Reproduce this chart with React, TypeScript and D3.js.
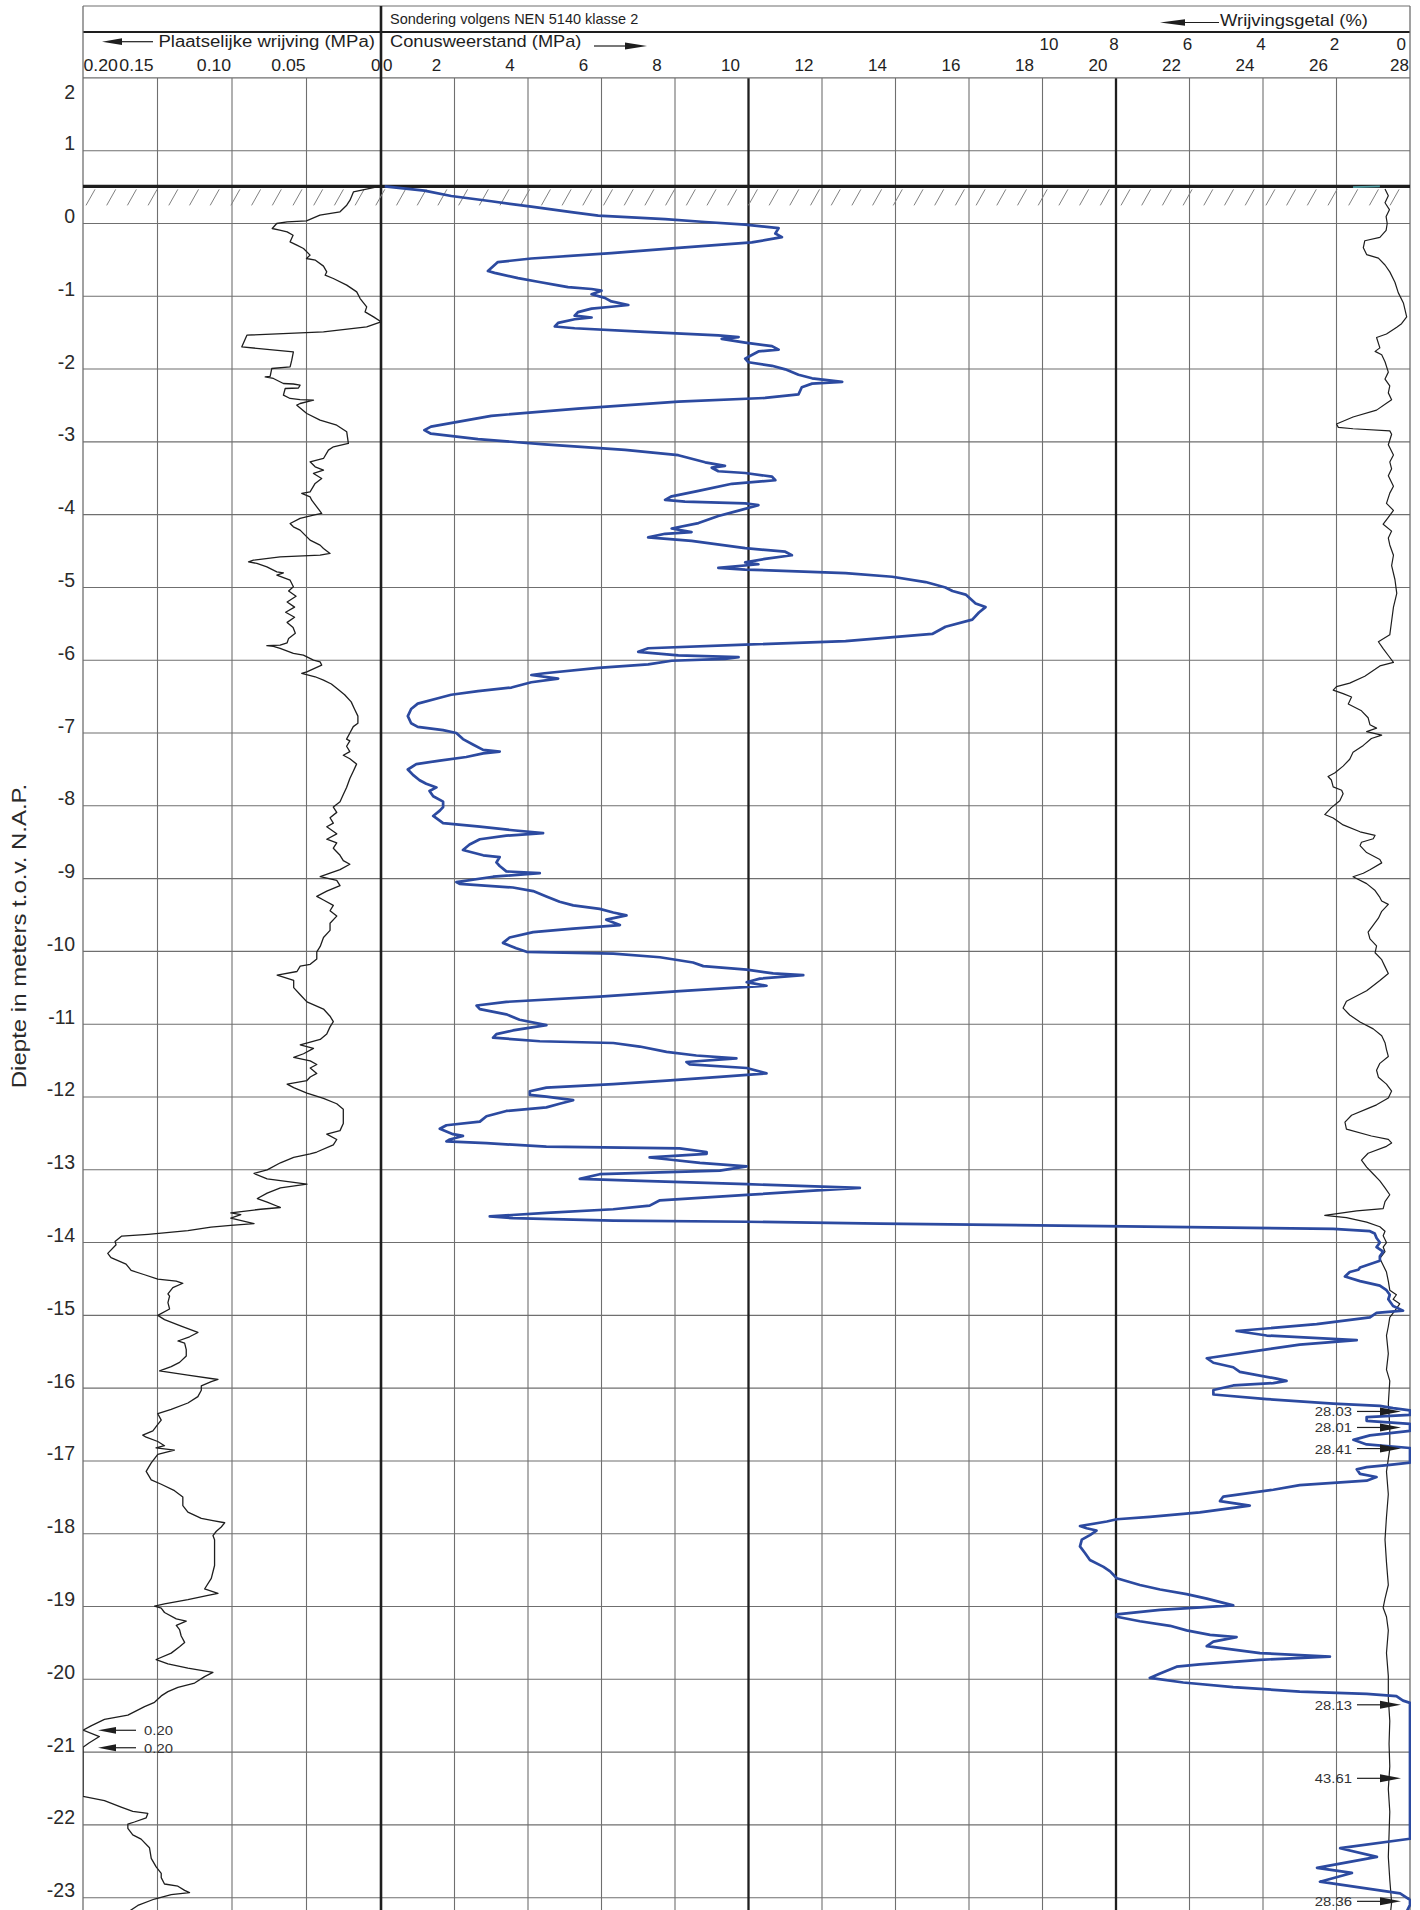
import React from 'react';
import * as d3 from 'd3';

// ---------- axis definitions ----------
const depthTicks: number[] = d3.range(2, -24, -1);
const frictionTicks: number[] = [0.2, 0.15, 0.1, 0.05, 0];
const frictionTickLabels: string[] = ['0.20', '0.15', '0.10', '0.05', '0'];
const coneTicks: number[] = d3.range(0, 29, 2);
const ratioTicks: number[] = [10, 8, 6, 4, 2, 0];
const groundLevel = 0.51;

// ---------- data: [depth (m NAP), value] ----------
// Plaatselijke wrijving (MPa)
const frictionData: [number, number][] = [
  [0.51, 0.001], [0.494, 0.005], [0.434, 0.0185], [0.32, 0.0208], [0.251, 0.023], [0.16, 0.0275], [0.114, 0.041],
  [0.036, 0.05], [0.022, 0.063], [0.0, 0.07], [-0.069, 0.073], [-0.092, 0.068], [-0.115, 0.063], [-0.161, 0.059],
  [-0.252, 0.061], [-0.298, 0.0565], [-0.344, 0.052], [-0.435, 0.0476], [-0.481, 0.05], [-0.504, 0.044],
  [-0.586, 0.0386], [-0.664, 0.0364], [-0.71, 0.0375], [-0.756, 0.032], [-0.847, 0.023], [-0.939, 0.0163],
  [-1.031, 0.014], [-1.145, 0.0096], [-1.214, 0.0107], [-1.283, 0.005], [-1.351, 0.0], [-1.42, 0.0096],
  [-1.489, 0.0386], [-1.534, 0.09], [-1.695, 0.0934], [-1.763, 0.0588], [-1.878, 0.0599], [-1.969, 0.061],
  [-1.992, 0.0733], [-2.1, 0.0744], [-2.107, 0.0777], [-2.129, 0.0722], [-2.198, 0.0655], [-2.205, 0.0588],
  [-2.221, 0.0543], [-2.26, 0.0554], [-2.267, 0.0643], [-2.359, 0.0655], [-2.404, 0.061], [-2.42, 0.0543],
  [-2.427, 0.0453], [-2.473, 0.0543], [-2.496, 0.0565], [-2.61, 0.0498], [-2.702, 0.0409], [-2.771, 0.0297],
  [-2.862, 0.023], [-3.022, 0.0219], [-3.068, 0.0319], [-3.114, 0.0353], [-3.228, 0.0386], [-3.274, 0.0476],
  [-3.343, 0.0442], [-3.389, 0.0386], [-3.434, 0.0453], [-3.503, 0.0398], [-3.571, 0.0442], [-3.686, 0.0476],
  [-3.709, 0.0532], [-3.755, 0.0476], [-3.801, 0.0465], [-3.892, 0.0431], [-3.984, 0.0398], [-4.007, 0.0453],
  [-4.052, 0.0543], [-4.121, 0.061], [-4.167, 0.0588], [-4.213, 0.0543], [-4.35, 0.0476], [-4.419, 0.0409],
  [-4.464, 0.0386], [-4.533, 0.0342], [-4.556, 0.0409], [-4.579, 0.0677], [-4.625, 0.0856], [-4.648, 0.0889],
  [-4.67, 0.0833], [-4.717, 0.0766], [-4.785, 0.0699], [-4.8, 0.0655], [-4.831, 0.0699], [-4.9, 0.061],
  [-4.991, 0.0588], [-5.05, 0.062], [-5.12, 0.057], [-5.2, 0.063], [-5.27, 0.058], [-5.34, 0.064], [-5.41, 0.058],
  [-5.48, 0.063], [-5.55, 0.059], [-5.63, 0.0575], [-5.7, 0.062], [-5.76, 0.063], [-5.792, 0.0677], [-5.8, 0.0766],
  [-5.81, 0.0722], [-5.838, 0.0677], [-5.907, 0.0588], [-5.93, 0.0521], [-5.999, 0.0453], [-6.021, 0.0409],
  [-6.067, 0.0398], [-6.159, 0.0498], [-6.181, 0.0532], [-6.227, 0.0442], [-6.273, 0.0386], [-6.326, 0.0333],
  [-6.4, 0.0289], [-6.474, 0.0244], [-6.572, 0.02], [-6.67, 0.0178], [-6.768, 0.0155], [-6.866, 0.0155],
  [-6.912, 0.0186], [-7.0, 0.0209], [-7.083, 0.0231], [-7.108, 0.0209], [-7.182, 0.0231], [-7.255, 0.0209],
  [-7.305, 0.0253], [-7.354, 0.0209], [-7.427, 0.0164], [-7.526, 0.0186], [-7.624, 0.0209], [-7.747, 0.0231],
  [-7.845, 0.0253], [-7.943, 0.0275], [-8.017, 0.032], [-8.09, 0.0297], [-8.164, 0.0342], [-8.238, 0.032],
  [-8.287, 0.0364], [-8.385, 0.0297], [-8.459, 0.0364], [-8.508, 0.0297], [-8.582, 0.032], [-8.68, 0.0275],
  [-8.753, 0.0253], [-8.803, 0.0209], [-8.876, 0.0275], [-8.925, 0.0342], [-8.974, 0.0408], [-9.024, 0.0297],
  [-9.097, 0.0275], [-9.171, 0.0364], [-9.245, 0.0431], [-9.294, 0.0386], [-9.367, 0.032], [-9.441, 0.0342],
  [-9.515, 0.0297], [-9.613, 0.0342], [-9.711, 0.0342], [-9.809, 0.0386], [-9.932, 0.0408], [-10.006, 0.0431],
  [-10.104, 0.0431], [-10.178, 0.0475], [-10.202, 0.0542], [-10.276, 0.0564], [-10.325, 0.0697], [-10.399, 0.0586],
  [-10.497, 0.0586], [-10.595, 0.0542], [-10.693, 0.0497], [-10.792, 0.0386], [-10.89, 0.0342], [-10.964, 0.032],
  [-11.037, 0.0342], [-11.136, 0.0364], [-11.209, 0.0408], [-11.283, 0.0542], [-11.332, 0.0453], [-11.406, 0.052],
  [-11.455, 0.0586], [-11.504, 0.0475], [-11.553, 0.0431], [-11.602, 0.0475], [-11.676, 0.0431], [-11.725, 0.0475],
  [-11.774, 0.0497], [-11.823, 0.063], [-11.872, 0.0586], [-11.946, 0.0497], [-12.02, 0.0386], [-12.093, 0.0297],
  [-12.167, 0.0253], [-12.265, 0.0253], [-12.363, 0.0253], [-12.462, 0.0275], [-12.511, 0.0364], [-12.584, 0.0297],
  [-12.658, 0.032], [-12.756, 0.0431], [-12.781, 0.0475], [-12.83, 0.0586], [-12.904, 0.0675], [-13.002, 0.0764],
  [-13.051, 0.0852], [-13.125, 0.0764], [-13.198, 0.0497], [-13.248, 0.0675], [-13.321, 0.0764], [-13.395, 0.083],
  [-13.444, 0.0764], [-13.518, 0.0675], [-13.542, 0.0808], [-13.591, 0.1008], [-13.616, 0.0941], [-13.665, 0.1008],
  [-13.739, 0.0852], [-13.763, 0.1008], [-13.788, 0.1141], [-13.837, 0.1296], [-13.886, 0.1563], [-13.911, 0.174],
  [-13.984, 0.1785], [-14.031, 0.1778], [-14.148, 0.1834], [-14.207, 0.1812], [-14.295, 0.1711], [-14.383, 0.1677],
  [-14.442, 0.1587], [-14.501, 0.1498], [-14.53, 0.1374], [-14.559, 0.133], [-14.618, 0.1397], [-14.706, 0.143],
  [-14.736, 0.1419], [-14.824, 0.143], [-14.912, 0.1419], [-15.0, 0.1498], [-15.059, 0.1453], [-15.147, 0.1341],
  [-15.235, 0.1229], [-15.294, 0.1285], [-15.352, 0.1363], [-15.382, 0.1318], [-15.47, 0.1307], [-15.558, 0.1307],
  [-15.646, 0.1352], [-15.705, 0.1408], [-15.764, 0.1486], [-15.822, 0.1296], [-15.881, 0.1094], [-15.91, 0.1139],
  [-15.969, 0.1206], [-16.028, 0.1206], [-16.116, 0.1229], [-16.204, 0.1296], [-16.292, 0.1408], [-16.351, 0.1498],
  [-16.439, 0.1475], [-16.498, 0.1498], [-16.586, 0.1531], [-16.645, 0.1599], [-16.674, 0.1576], [-16.733, 0.1498],
  [-16.791, 0.1453], [-16.821, 0.151], [-16.85, 0.1386], [-16.909, 0.1498], [-16.968, 0.152], [-17.026, 0.1542],
  [-17.144, 0.1576], [-17.261, 0.1542], [-17.32, 0.1475], [-17.408, 0.1386], [-17.496, 0.133], [-17.614, 0.133],
  [-17.702, 0.1296], [-17.79, 0.1206], [-17.819, 0.1128], [-17.849, 0.1049], [-17.907, 0.1072], [-17.966, 0.1105],
  [-18.025, 0.1128], [-18.084, 0.1117], [-18.26, 0.1117], [-18.436, 0.1117], [-18.612, 0.1139], [-18.759, 0.1184],
  [-18.818, 0.1094], [-18.847, 0.1161], [-18.906, 0.1296], [-18.965, 0.1453], [-18.994, 0.152], [-19.023, 0.1475],
  [-19.082, 0.1453], [-19.17, 0.1374], [-19.2, 0.1307], [-19.258, 0.1374], [-19.317, 0.1352], [-19.405, 0.1341],
  [-19.493, 0.1318], [-19.552, 0.1352], [-19.64, 0.1408], [-19.728, 0.1509], [-19.787, 0.143], [-19.846, 0.1296],
  [-19.904, 0.1128], [-19.963, 0.1184], [-20.051, 0.1251], [-20.11, 0.1363], [-20.169, 0.143], [-20.228, 0.1475],
  [-20.316, 0.152], [-20.375, 0.1587], [-20.433, 0.1643], [-20.492, 0.1699], [-20.551, 0.1856], [-20.639, 0.1946],
  [-20.698, 0.2], [-20.786, 0.189], [-20.874, 0.196], [-20.933, 0.2], [-20.962, 0.2], [-21.608, 0.2],
  [-21.667, 0.1856], [-21.755, 0.1744], [-21.814, 0.1666], [-21.843, 0.1565], [-21.902, 0.1576], [-21.96, 0.1655],
  [-21.99, 0.1699], [-22.048, 0.1699], [-22.136, 0.1666], [-22.195, 0.161], [-22.313, 0.1554], [-22.46, 0.1542],
  [-22.577, 0.1509], [-22.665, 0.1475], [-22.724, 0.1475], [-22.812, 0.1453], [-22.842, 0.1363], [-22.9, 0.1318],
  [-22.93, 0.1285], [-22.959, 0.1408], [-23.018, 0.152], [-23.106, 0.1632], [-23.2, 0.17],
];

// Conusweerstand (MPa); values above 28 are drawn at the edge
const coneData: [number, number][] = [
  [0.51, 0.1], [0.452, 1.18], [0.378, 1.91], [0.305, 3.0], [0.231, 4.09], [0.157, 5.18], [0.108, 5.91], [0.059, 7.73],
  [0.02, 8.82], [-0.015, 9.91], [-0.064, 10.82], [-0.138, 10.73], [-0.187, 10.91], [-0.26, 10.09], [-0.334, 8.09],
  [-0.408, 6.27], [-0.481, 4.09], [-0.53, 3.18], [-0.653, 2.91], [-0.678, 3.09], [-0.751, 3.73], [-0.8, 4.27],
  [-0.85, 4.82], [-0.874, 5.09], [-0.9, 5.73], [-0.923, 6.0], [-0.972, 5.73], [-1.022, 6.09], [-1.071, 6.27],
  [-1.12, 6.73], [-1.144, 6.27], [-1.169, 5.73], [-1.218, 5.36], [-1.267, 5.27], [-1.292, 5.73], [-1.316, 5.27],
  [-1.365, 4.82], [-1.415, 4.73], [-1.439, 5.27], [-1.488, 7.18], [-1.537, 9.18], [-1.562, 9.73], [-1.586, 9.27],
  [-1.636, 9.91], [-1.685, 10.64], [-1.734, 10.82], [-1.758, 10.27], [-1.807, 10.09], [-1.857, 9.91], [-1.906, 10.0],
  [-1.955, 10.64], [-2.004, 11.0], [-2.078, 11.36], [-2.127, 11.73], [-2.176, 12.55], [-2.2, 11.73], [-2.25, 11.45],
  [-2.348, 11.36], [-2.397, 10.45], [-2.446, 8.09], [-2.544, 5.36], [-2.642, 3.0], [-2.79, 1.36], [-2.839, 1.18],
  [-2.888, 1.36], [-2.962, 2.64], [-3.035, 4.45], [-3.109, 6.64], [-3.183, 8.09], [-3.281, 8.82], [-3.33, 9.36],
  [-3.355, 9.0], [-3.404, 9.18], [-3.428, 9.91], [-3.477, 10.64], [-3.527, 10.73], [-3.576, 9.55], [-3.674, 8.64],
  [-3.748, 7.91], [-3.797, 7.73], [-3.821, 8.27], [-3.846, 9.91], [-3.87, 10.27], [-3.944, 9.73], [-4.018, 9.18],
  [-4.116, 8.64], [-4.19, 7.91], [-4.239, 8.45], [-4.263, 7.73], [-4.312, 7.27], [-4.361, 8.45], [-4.46, 9.91],
  [-4.509, 11.0], [-4.558, 11.18], [-4.607, 10.45], [-4.656, 9.91], [-4.681, 10.27], [-4.73, 9.18], [-4.754, 9.91],
  [-4.804, 12.64], [-4.853, 13.91], [-4.926, 14.82], [-5.0, 15.36], [-5.049, 15.55], [-5.098, 15.91], [-5.221, 16.18],
  [-5.27, 16.45], [-5.344, 16.27], [-5.442, 16.09], [-5.54, 15.36], [-5.639, 15.0], [-5.737, 12.64], [-5.786, 9.91],
  [-5.835, 7.27], [-5.884, 7.0], [-5.933, 8.09], [-5.958, 9.73], [-5.982, 9.36], [-6.007, 7.91], [-6.056, 7.27],
  [-6.105, 5.91], [-6.179, 4.45], [-6.203, 4.09], [-6.252, 4.82], [-6.302, 4.09], [-6.351, 3.73], [-6.375, 3.55],
  [-6.424, 2.64], [-6.474, 1.91], [-6.523, 1.55], [-6.596, 1.0], [-6.67, 0.82], [-6.768, 0.73], [-6.866, 0.82],
  [-6.916, 1.0], [-6.961, 1.69], [-7.0, 2.05], [-7.083, 2.23], [-7.157, 2.5], [-7.231, 2.78], [-7.255, 3.23],
  [-7.28, 2.78], [-7.329, 2.32], [-7.378, 1.6], [-7.427, 0.96], [-7.501, 0.73], [-7.575, 0.87], [-7.648, 1.05],
  [-7.697, 1.23], [-7.747, 1.51], [-7.796, 1.32], [-7.869, 1.42], [-7.943, 1.69], [-8.017, 1.69], [-8.066, 1.6],
  [-8.139, 1.42], [-8.238, 1.69], [-8.287, 2.69], [-8.336, 3.59], [-8.375, 4.41], [-8.41, 3.41], [-8.459, 2.69],
  [-8.532, 2.41], [-8.606, 2.23], [-8.68, 2.78], [-8.704, 3.23], [-8.778, 3.14], [-8.827, 3.23], [-8.901, 3.41],
  [-8.925, 4.32], [-8.974, 3.05], [-9.048, 2.05], [-9.073, 2.14], [-9.122, 3.59], [-9.171, 4.14], [-9.245, 4.5],
  [-9.318, 4.86], [-9.367, 5.23], [-9.416, 5.95], [-9.466, 6.32], [-9.505, 6.68], [-9.564, 6.13], [-9.638, 6.5],
  [-9.687, 5.23], [-9.736, 4.14], [-9.809, 3.5], [-9.883, 3.32], [-9.957, 3.68], [-10.006, 3.96], [-10.03, 6.32],
  [-10.08, 7.59], [-10.153, 8.49], [-10.202, 8.77], [-10.251, 9.95], [-10.301, 10.67], [-10.325, 11.49],
  [-10.374, 10.31], [-10.423, 9.95], [-10.472, 10.49], [-10.546, 8.13], [-10.62, 5.95], [-10.693, 3.41],
  [-10.743, 2.6], [-10.792, 2.69], [-10.865, 3.41], [-10.939, 3.77], [-11.013, 4.5], [-11.086, 3.59], [-11.136, 3.14],
  [-11.185, 3.05], [-11.234, 4.32], [-11.258, 6.32], [-11.307, 7.04], [-11.381, 7.77], [-11.43, 8.58], [-11.47, 9.67],
  [-11.519, 8.31], [-11.553, 8.4], [-11.602, 9.95], [-11.676, 10.49], [-11.725, 9.22], [-11.774, 7.77], [-11.823, 6.32],
  [-11.872, 4.5], [-11.921, 4.05], [-11.971, 4.05], [-11.995, 4.5], [-12.044, 5.23], [-12.093, 4.86], [-12.142, 4.5],
  [-12.192, 3.41], [-12.265, 2.87], [-12.339, 2.69], [-12.388, 1.78], [-12.437, 1.6], [-12.511, 1.96], [-12.535, 2.23],
  [-12.584, 1.87], [-12.609, 1.78], [-12.634, 2.87], [-12.683, 4.5], [-12.707, 8.13], [-12.756, 8.86], [-12.781, 8.86],
  [-12.83, 7.31], [-12.855, 7.77], [-12.904, 8.68], [-12.953, 9.95], [-13.012, 9.22], [-13.061, 5.95], [-13.125, 5.41],
  [-13.149, 6.86], [-13.198, 9.95], [-13.248, 13.03], [-13.287, 11.76], [-13.346, 9.95], [-13.419, 7.59],
  [-13.493, 7.31], [-13.542, 6.32], [-13.591, 4.5], [-13.641, 2.96], [-13.665, 3.59], [-13.699, 6.32], [-13.714, 9.95],
  [-13.739, 13.58], [-13.778, 20.25], [-13.813, 25.91], [-13.844, 26.91], [-13.875, 27.04], [-13.938, 27.09],
  [-14.0, 27.18], [-14.062, 27.09], [-14.125, 27.27], [-14.187, 27.18], [-14.249, 27.18], [-14.343, 26.64],
  [-14.374, 26.59], [-14.405, 26.36], [-14.467, 26.23], [-14.53, 26.64], [-14.592, 27.18], [-14.654, 27.36],
  [-14.717, 27.45], [-14.779, 27.41], [-14.872, 27.54], [-14.935, 27.81], [-14.966, 27.09], [-15.028, 26.91],
  [-15.121, 25.46], [-15.215, 23.28], [-15.277, 24.1], [-15.34, 26.55], [-15.402, 25.0], [-15.495, 23.74],
  [-15.589, 22.47], [-15.651, 22.65], [-15.713, 23.19], [-15.776, 23.37], [-15.869, 24.37], [-15.9, 24.64],
  [-15.931, 24.28], [-15.963, 23.19], [-16.025, 22.65], [-16.087, 22.65], [-16.15, 24.1], [-16.212, 25.91],
  [-16.243, 27.18], [-16.274, 27.54], [-16.305, 28.03], [-16.368, 28.03], [-16.399, 26.82], [-16.449, 26.82],
  [-16.492, 28.01], [-16.586, 28.01], [-16.648, 26.91], [-16.71, 26.46], [-16.773, 26.82], [-16.822, 28.41],
  [-16.928, 28.41], [-17.022, 28.41], [-17.053, 27.45], [-17.084, 26.82], [-17.115, 26.55], [-17.178, 26.64],
  [-17.221, 27.09], [-17.271, 26.82], [-17.333, 25.0], [-17.396, 24.28], [-17.489, 22.92], [-17.551, 22.83],
  [-17.614, 23.64], [-17.645, 23.19], [-17.707, 22.28], [-17.769, 20.92], [-17.801, 20.02], [-17.832, 19.75],
  [-17.894, 19.02], [-17.925, 19.2], [-17.956, 19.47], [-18.019, 19.29], [-18.081, 19.07], [-18.174, 19.02],
  [-18.268, 19.16], [-18.361, 19.29], [-18.455, 19.66], [-18.517, 19.84], [-18.611, 20.02], [-18.704, 20.65],
  [-18.766, 21.2], [-18.829, 21.92], [-18.891, 22.47], [-18.984, 23.19], [-19.047, 21.2], [-19.109, 20.02],
  [-19.14, 20.02], [-19.202, 20.65], [-19.265, 21.47], [-19.327, 21.92], [-19.389, 22.56], [-19.421, 23.28],
  [-19.483, 22.65], [-19.545, 22.47], [-19.639, 23.92], [-19.688, 25.82], [-19.732, 23.92], [-19.794, 22.28],
  [-19.826, 21.65], [-19.919, 21.2], [-19.981, 20.92], [-20.044, 21.83], [-20.106, 23.19], [-20.168, 25.0],
  [-20.199, 26.82], [-20.231, 27.63], [-20.293, 27.81], [-20.324, 28.13], [-21.35, 43.61], [-22.19, 28.5],
  [-22.32, 26.1], [-22.44, 27.1], [-22.59, 25.47], [-22.66, 26.42], [-22.78, 25.55], [-22.94, 27.73], [-23.03, 28.36],
  [-23.1, 28.36], [-23.2, 27.9],
];

// Wrijvingsgetal (%)
const ratioData: [number, number][] = [
  [0.475, 0.68], [0.38, 0.59], [0.285, 0.68], [0.19, 0.56], [0.095, 0.65], [0.0, 0.62], [-0.095, 0.65], [-0.19, 0.82],
  [-0.237, 1.23], [-0.332, 1.27], [-0.427, 1.18], [-0.475, 0.86], [-0.57, 0.68], [-0.665, 0.55], [-0.807, 0.41],
  [-0.95, 0.32], [-1.092, 0.18], [-1.282, 0.09], [-1.377, 0.23], [-1.425, 0.36], [-1.519, 0.64], [-1.567, 0.91],
  [-1.709, 0.82], [-1.757, 0.95], [-1.804, 0.77], [-1.899, 0.68], [-2.042, 0.59], [-2.137, 0.68], [-2.232, 0.55],
  [-2.327, 0.59], [-2.422, 0.5], [-2.469, 0.64], [-2.564, 0.91], [-2.659, 1.55], [-2.754, 2.0], [-2.801, 1.95],
  [-2.82, 1.55], [-2.849, 0.55], [-2.896, 0.5], [-3.039, 0.59], [-3.181, 0.45], [-3.276, 0.55], [-3.371, 0.5],
  [-3.466, 0.59], [-3.609, 0.45], [-3.704, 0.55], [-3.846, 0.64], [-3.941, 0.45], [-4.036, 0.59], [-4.131, 0.73],
  [-4.226, 0.5], [-4.321, 0.59], [-4.416, 0.55], [-4.558, 0.45], [-4.701, 0.5], [-4.891, 0.41], [-5.081, 0.36],
  [-5.271, 0.45], [-5.461, 0.5], [-5.651, 0.55], [-5.746, 0.86], [-5.84, 0.73], [-5.935, 0.59], [-6.03, 0.45],
  [-6.078, 0.82], [-6.125, 0.95], [-6.22, 1.23], [-6.315, 1.64], [-6.363, 2.0], [-6.41, 2.09], [-6.458, 1.82],
  [-6.505, 1.59], [-6.6, 1.68], [-6.695, 1.32], [-6.79, 1.14], [-6.885, 1.09], [-6.933, 0.91], [-6.98, 1.18],
  [-7.028, 0.77], [-7.075, 1.05], [-7.17, 1.27], [-7.265, 1.55], [-7.36, 1.64], [-7.455, 1.82], [-7.55, 2.05],
  [-7.597, 2.23], [-7.645, 2.14], [-7.74, 2.09], [-7.787, 1.86], [-7.835, 1.82], [-7.93, 1.91], [-8.025, 2.14],
  [-8.072, 2.23], [-8.12, 2.32], [-8.167, 2.09], [-8.262, 1.82], [-8.357, 1.36], [-8.405, 0.95], [-8.452, 1.0],
  [-8.5, 1.32], [-8.547, 1.36], [-8.642, 1.18], [-8.737, 0.82], [-8.784, 0.77], [-8.879, 1.09], [-8.927, 1.27],
  [-8.974, 1.55], [-9.069, 1.18], [-9.164, 0.95], [-9.259, 0.82], [-9.307, 0.77], [-9.354, 0.59], [-9.449, 0.77],
  [-9.544, 0.86], [-9.639, 1.0], [-9.734, 1.14], [-9.829, 1.09], [-9.924, 0.91], [-10.019, 0.95], [-10.114, 0.77],
  [-10.209, 0.68], [-10.304, 0.59], [-10.399, 0.82], [-10.541, 1.18], [-10.684, 1.73], [-10.779, 1.82],
  [-10.874, 1.64], [-10.969, 1.36], [-11.064, 1.0], [-11.159, 0.77], [-11.254, 0.68], [-11.349, 0.64],
  [-11.443, 0.59], [-11.538, 0.82], [-11.633, 0.91], [-11.728, 0.86], [-11.823, 0.64], [-11.918, 0.5],
  [-12.013, 0.59], [-12.108, 0.91], [-12.156, 1.14], [-12.251, 1.59], [-12.346, 1.77], [-12.441, 1.73],
  [-12.536, 1.05], [-12.583, 0.59], [-12.631, 0.5], [-12.678, 0.64], [-12.773, 1.14], [-12.868, 1.32],
  [-12.963, 1.18], [-13.058, 1.0], [-13.153, 0.82], [-13.248, 0.68], [-13.343, 0.55], [-13.438, 0.68],
  [-13.533, 0.73], [-13.564, 1.45], [-13.626, 2.32], [-13.657, 1.73], [-13.72, 1.18], [-13.782, 0.82],
  [-13.844, 0.68], [-13.907, 0.73], [-14.0, 0.64], [-14.062, 0.73], [-14.125, 0.68], [-14.218, 0.82], [-14.312, 0.73],
  [-14.405, 0.64], [-14.53, 0.59], [-14.654, 0.55], [-14.717, 0.37], [-14.779, 0.46], [-14.841, 0.28], [-14.935, 0.41],
  [-15.028, 0.55], [-15.153, 0.59], [-15.277, 0.64], [-15.526, 0.59], [-15.745, 0.64], [-15.9, 0.55], [-16.212, 0.59],
  [-16.523, 0.55], [-16.835, 0.55], [-17.146, 0.64], [-17.458, 0.59], [-17.769, 0.64], [-18.081, 0.68],
  [-18.393, 0.64], [-18.704, 0.59], [-18.891, 0.68], [-19.016, 0.73], [-19.14, 0.64], [-19.327, 0.59],
  [-19.639, 0.64], [-19.953, 0.59], [-20.262, 0.59], [-20.573, 0.55], [-20.885, 0.57], [-21.196, 0.55],
  [-21.508, 0.59], [-21.82, 0.55], [-22.131, 0.57], [-22.442, 0.59], [-22.754, 0.55], [-23.065, 0.5], [-23.2, 0.53],
];
const ratioGroundMark: [number, number][] = [[0.5, 1.55], [0.51, 0.82]];

// off-scale annotations [depth, value]
const frictionNotes: [number, number][] = [[-20.7, 0.2], [-20.94, 0.2]];
const coneNotes: [number, number][] = [
  [-16.32, 28.03], [-16.54, 28.01], [-16.83, 28.41], [-20.35, 28.13], [-21.36, 43.61], [-23.05, 28.36],
];

// ---------- layout ----------
const W = 1420;
const H = 1910;
const LEFT = 83;
const MID = 381;
const RIGHT = 1410;
const TOP = 6;
const HEAD = 32;
const GRID_TOP = 77.9;
const FONT = '"Liberation Sans", Arial, Helvetica, sans-serif';
const BLUE = '#2c4aa0';
const INK = '#1e1e1e';
const GRID = '#6f6f6f';
const TICK_SIZE = 17;

const y = d3.scaleLinear().domain([2, -23]).range([GRID_TOP, 1897.7]);
const xF = d3.scaleLinear().domain([0.2, 0]).range([LEFT, MID]);
const xC = d3.scaleLinear().domain([0, 28]).range([MID, RIGHT]);
const xR = (f: number) => xC(28 - f);

const frictionLine = d3.line<[number, number]>()
  .x((d) => xF(Math.min(d[1], 0.2)))
  .y((d) => y(d[0]));
const coneLine = d3.line<[number, number]>()
  .x((d) => xC(Math.min(d[1], 28)))
  .y((d) => y(d[0]));
const ratioLine = d3.line<[number, number]>()
  .x((d) => xR(d[1]))
  .y((d) => y(d[0]));

type TProps = {
  x: number; y: number; size: number; anchor?: string; sx?: number; fill?: string; children: React.ReactNode;
};
function T({ x, y: yy, size, anchor = 'start', sx = 1, fill = INK, children }: TProps) {
  return (
    <text
      transform={`translate(${x},${yy}) scale(${sx},1)`}
      fontSize={size}
      textAnchor={anchor as any}
      fill={fill}
      fontFamily={FONT}
    >
      {children}
    </text>
  );
}

function Arrow({ tip, yy, dir, len, head = 20, hw = 3.6 }: { tip: number; yy: number; dir: 1 | -1; len: number; head?: number; hw?: number }) {
  const base = tip - dir * head;
  const tail = tip - dir * len;
  return (
    <g>
      <line x1={tail} y1={yy} x2={base} y2={yy} stroke={INK} strokeWidth={1.2} />
      <polygon points={`${tip},${yy} ${base},${yy - hw} ${base},${yy + hw}`} fill={INK} />
    </g>
  );
}

export default function App() {
  const hatchXs = d3.range(LEFT + 3, RIGHT - 4, 20.7);
  const gy = y(groundLevel);
  const minorFriction = frictionTicks.filter((t) => t !== 0 && t !== 0.2);
  const minorCone = coneTicks.filter((t) => t !== 0 && t !== 10 && t !== 20 && t !== 28);

  return (
    <svg
      width={W}
      height={H}
      viewBox={`0 0 ${W} ${H}`}
      style={{ position: 'absolute', left: 0, top: 0, display: 'block', background: '#fff' }}
    >
      <defs>
        <clipPath id="plot">
          <rect x={LEFT} y={GRID_TOP} width={RIGHT - LEFT + 1} height={H - GRID_TOP} />
        </clipPath>
      </defs>
      <rect x={0} y={0} width={W} height={H} fill="#fff" />

      {/* horizontal grid lines */}
      {depthTicks.filter((d) => d !== 2).map((d) => (
        <line key={`h${d}`} x1={LEFT} x2={RIGHT} y1={y(d)} y2={y(d)} stroke={GRID} strokeWidth={1.1} />
      ))}
      {/* vertical grid lines */}
      {minorFriction.map((t) => (
        <line key={`vf${t}`} x1={xF(t)} x2={xF(t)} y1={GRID_TOP} y2={H} stroke={GRID} strokeWidth={1.1} />
      ))}
      {minorCone.map((t) => (
        <line key={`vc${t}`} x1={xC(t)} x2={xC(t)} y1={GRID_TOP} y2={H} stroke={GRID} strokeWidth={1.1} />
      ))}
      {[10, 20].map((t) => (
        <line key={`vt${t}`} x1={xC(t)} x2={xC(t)} y1={GRID_TOP} y2={H} stroke={INK} strokeWidth={2.3} />
      ))}

      {/* frame */}
      <line x1={LEFT} x2={RIGHT} y1={TOP} y2={TOP} stroke={GRID} strokeWidth={1.2} />
      <line x1={LEFT} x2={RIGHT} y1={HEAD} y2={HEAD} stroke={INK} strokeWidth={1.8} />
      <line x1={LEFT} x2={RIGHT} y1={GRID_TOP} y2={GRID_TOP} stroke={GRID} strokeWidth={1.2} />
      <line x1={LEFT} x2={LEFT} y1={TOP} y2={H} stroke={GRID} strokeWidth={1.3} />
      <line x1={RIGHT} x2={RIGHT} y1={TOP} y2={H} stroke={GRID} strokeWidth={1.3} />
      <line x1={MID} x2={MID} y1={TOP} y2={H} stroke={INK} strokeWidth={2.6} />

      {/* ground level and hatching */}
      {hatchXs.map((hx, i) => (
        <line key={`hx${i}`} x1={hx} y1={gy + 19} x2={hx + 9} y2={gy + 3} stroke="#808080" strokeWidth={1} />
      ))}
      <line x1={LEFT} x2={RIGHT} y1={gy} y2={gy} stroke={INK} strokeWidth={3.2} />

      {/* curves */}
      <g clipPath="url(#plot)">
        <path d={frictionLine(frictionData) || ''} fill="none" stroke={INK} strokeWidth={1.3} strokeLinejoin="round" />
        <path d={ratioLine(ratioData) || ''} fill="none" stroke={INK} strokeWidth={1.2} strokeLinejoin="round" />
        <path d={ratioLine(ratioGroundMark) || ''} fill="none" stroke="#4e9aa0" strokeWidth={1.6} />
        <path d={coneLine(coneData) || ''} fill="none" stroke={BLUE} strokeWidth={2.7} strokeLinejoin="round" />
      </g>

      {/* off-scale annotations */}
      {frictionNotes.map(([d, v], i) => (
        <g key={`fn${i}`}>
          <Arrow tip={xF(v) + 15} yy={y(d)} dir={-1} len={38} head={18} hw={3.4} />
          <T x={xF(v) + 61} y={y(d) + 5} size={13.5} sx={1.1} fill="#333">{v.toFixed(2)}</T>
        </g>
      ))}
      {coneNotes.map(([d, v], i) => (
        <g key={`cn${i}`}>
          <Arrow tip={xC(28) - 9} yy={y(d)} dir={1} len={44} head={21} hw={4} />
          <T x={xC(28) - 58} y={y(d) + 5} size={13.5} sx={1.1} anchor="end" fill="#333">{v.toFixed(2)}</T>
        </g>
      ))}

      {/* depth labels */}
      {depthTicks.map((d) => (
        <T key={`dl${d}`} x={75} y={d === 2 ? 98.5 : y(d) - 0.5} size={19.5} anchor="end" fill="#2a2a2a">
          {String(d)}
        </T>
      ))}
      {/* y axis title */}
      <text
        transform={`translate(26,${936}) rotate(-90) scale(1.2,1)`}
        fontSize={20}
        textAnchor="middle"
        fill="#2a2a2a"
        fontFamily={FONT}
      >
        Diepte in meters t.o.v. N.A.P.
      </text>

      {/* header texts */}
      <T x={390} y={24} size={14.5}>Sondering volgens NEN 5140 klasse 2</T>
      <Arrow tip={1160} yy={22.5} dir={-1} len={59} head={25} hw={3.2} />
      <T x={1220} y={26} size={16} sx={1.15}>Wrijvingsgetal (%)</T>

      <Arrow tip={102} yy={41.7} dir={-1} len={51} head={20} hw={3.4} />
      <T x={158.5} y={47} size={16} sx={1.16}>Plaatselijke wrijving (MPa)</T>
      <T x={390} y={47} size={16} sx={1.14}>Conusweerstand (MPa)</T>
      <Arrow tip={647} yy={46} dir={1} len={53} head={22} hw={3.4} />

      {/* ratio tick labels */}
      {ratioTicks.map((f) => {
        if (f === 0) return <T key={`rt${f}`} x={RIGHT - 4} y={50} size={TICK_SIZE} anchor="end">{String(f)}</T>;
        const off = f === 10 ? 6.5 : -2;
        return <T key={`rt${f}`} x={xR(f) + off} y={50} size={TICK_SIZE} anchor="middle">{String(f)}</T>;
      })}

      {/* friction tick labels */}
      {frictionTicks.map((t, i) => {
        const lab = frictionTickLabels[i];
        if (t === 0.2) return <T key={`ft${t}`} x={LEFT + 0.5} y={71} size={TICK_SIZE} sx={1.04}>{lab}</T>;
        if (t === 0) return <T key={`ft${t}`} x={MID - 0.5} y={71} size={TICK_SIZE} anchor="end">{lab}</T>;
        const off = t === 0.15 ? -21 : -18;
        return <T key={`ft${t}`} x={xF(t) + off} y={71} size={TICK_SIZE} sx={1.04} anchor="middle">{lab}</T>;
      })}
      {/* cone tick labels */}
      {coneTicks.map((t) => {
        if (t === 0) return <T key={`ct${t}`} x={MID + 2} y={71} size={TICK_SIZE}>{String(t)}</T>;
        if (t === 28) return <T key={`ct${t}`} x={RIGHT - 1} y={71} size={TICK_SIZE} anchor="end">{String(t)}</T>;
        return <T key={`ct${t}`} x={xC(t) - 18} y={71} size={TICK_SIZE} anchor="middle">{String(t)}</T>;
      })}
    </svg>
  );
}
